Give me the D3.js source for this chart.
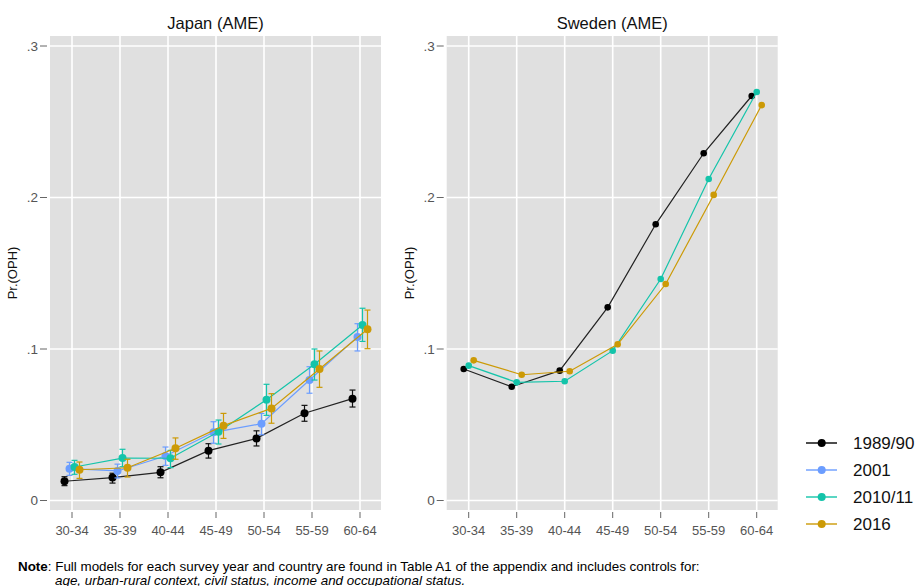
<!DOCTYPE html>
<html>
<head>
<meta charset="utf-8">
<script src="https://cdn.jsdelivr.net/npm/d3@7"></script>
<style>
  body { margin: 0; background: #fff; }
  svg { font-family: "Liberation Sans", Arial, sans-serif; display: block; }
</style>
</head>
<body>
<svg id="chart" width="919" height="586"></svg>
<script>
// age groups on the x axis
const ageGroups = ["30-34", "35-39", "40-44", "45-49", "50-54", "55-59", "60-64"];
const yTicks = [0, 0.1, 0.2, 0.3];
const yTickLabels = ["0", ".1", ".2", ".3"];

const years = ["1989/90", "2001", "2010/11", "2016"];
const colors = ["#000000", "#6b9dff", "#14c4aa", "#cc9a06"];

// Japan estimates with 95% CI
const jp1989 = [0.0127, 0.0151, 0.0186, 0.0329, 0.0410, 0.0576, 0.0672];
const jp1989Lo = [0.0098, 0.0115, 0.0150, 0.0280, 0.0360, 0.0523, 0.0617];
const jp1989Hi = [0.0157, 0.0180, 0.0223, 0.0375, 0.0460, 0.0628, 0.0729];

const jp2001 = [0.0210, 0.0195, 0.0294, 0.0450, 0.0507, 0.0795, 0.1080];
const jp2001Lo = [0.0166, 0.0149, 0.0232, 0.0378, 0.0434, 0.0708, 0.0987];
const jp2001Hi = [0.0252, 0.0240, 0.0353, 0.0520, 0.0575, 0.0883, 0.1167];

const jp2010 = [0.0221, 0.0280, 0.0279, 0.0454, 0.0665, 0.0899, 0.1158];
const jp2010Lo = [0.0173, 0.0223, 0.0217, 0.0373, 0.0562, 0.0795, 0.1050];
const jp2010Hi = [0.0265, 0.0338, 0.0331, 0.0531, 0.0767, 0.1000, 0.1269];

const jp2016 = [0.0203, 0.0216, 0.0345, 0.0494, 0.0608, 0.0868, 0.1130];
const jp2016Lo = [0.0146, 0.0155, 0.0272, 0.0410, 0.0510, 0.0747, 0.1002];
const jp2016Hi = [0.0254, 0.0272, 0.0413, 0.0575, 0.0705, 0.0987, 0.1257];

// Sweden estimates (no 2001 wave)
const se1989 = [0.0868, 0.0751, 0.0857, 0.1275, 0.1823, 0.2292, 0.2670];
const se2010 = [0.0890, 0.0780, 0.0787, 0.0989, 0.1462, 0.2122, 0.2696];
const se2016 = [0.0925, 0.0830, 0.0853, 0.1031, 0.1429, 0.2017, 0.2610];

const noteText = "Full models for each survey year and country are found in Table A1 of the appendix and includes controls for:";
const noteText2 = "age, urban-rural context, civil status, income and occupational status.";

const svg = d3.select("#chart");

const japanSeries = [
  {year: 0, est: jp1989, lo: jp1989Lo, hi: jp1989Hi},
  {year: 1, est: jp2001, lo: jp2001Lo, hi: jp2001Hi},
  {year: 2, est: jp2010, lo: jp2010Lo, hi: jp2010Hi},
  {year: 3, est: jp2016, lo: jp2016Lo, hi: jp2016Hi}
];
const swedenSeries = [
  {year: 0, est: se1989},
  {year: 2, est: se2010},
  {year: 3, est: se2016}
];

function drawPanel(left, right, title, series, r) {
  const top = 36, bottom = 510;
  const g = svg.append("g");

  const x = d3.scalePoint().domain(ageGroups).range([left + 22, right - 21]);
  const y = d3.scaleLinear().domain([0, 0.3]).range([500.5, 46]);

  g.append("rect")
    .attr("x", left).attr("y", top)
    .attr("width", right - left).attr("height", bottom - top)
    .attr("fill", "#e0e0e0");

  // grid
  g.selectAll(".hgrid").data(yTicks).enter().append("line")
    .attr("x1", left).attr("x2", right)
    .attr("y1", d => y(d)).attr("y2", d => y(d))
    .attr("stroke", "#fff").attr("stroke-width", 1.6);
  g.selectAll(".vgrid").data(ageGroups).enter().append("line")
    .attr("x1", d => x(d)).attr("x2", d => x(d))
    .attr("y1", top).attr("y2", bottom)
    .attr("stroke", "#fff").attr("stroke-width", 1.6);

  // y axis
  g.selectAll(".ytick").data(yTicks).enter().append("line")
    .attr("x1", left - 10).attr("x2", left - 3)
    .attr("y1", d => y(d)).attr("y2", d => y(d))
    .attr("stroke", "#666").attr("stroke-width", 1);
  g.selectAll(".ylab").data(yTicks).enter().append("text")
    .attr("x", left - 12).attr("y", d => y(d) + 4.5)
    .attr("text-anchor", "end")
    .style("font-size", "13.5px").attr("fill", "#555")
    .text((d, i) => yTickLabels[i]);

  // x axis
  g.selectAll(".xtick").data(ageGroups).enter().append("line")
    .attr("x1", d => x(d)).attr("x2", d => x(d))
    .attr("y1", bottom + 2).attr("y2", bottom + 8)
    .attr("stroke", "#666").attr("stroke-width", 1);
  g.selectAll(".xlab").data(ageGroups).enter().append("text")
    .attr("x", d => x(d)).attr("y", bottom + 24.5)
    .attr("text-anchor", "middle")
    .style("font-size", "13px").attr("fill", "#555")
    .text(d => d);

  g.append("text")
    .attr("x", (left + right) / 2).attr("y", 29)
    .attr("text-anchor", "middle")
    .style("font-size", "16.5px").attr("fill", "#111")
    .text(title);

  g.append("text")
    .attr("transform", "translate(" + (left - 33) + "," + ((top + bottom) / 2) + ") rotate(-90)")
    .attr("text-anchor", "middle")
    .style("font-size", "13px").attr("fill", "#111")
    .text("Pr.(OPH)");

  // dodge series around each age group
  const n = series.length;
  series.forEach((s, k) => {
    const off = (k - (n - 1) / 2) * 5;
    const col = colors[s.year];
    const pts = s.est.map((v, i) => ({cx: x(ageGroups[i]) + off, v: v, i: i}));

    const line = d3.line().x(d => d.cx).y(d => y(d.v));
    g.append("path")
      .datum(pts)
      .attr("d", line)
      .attr("fill", "none")
      .attr("stroke", s.year === 0 ? "#222" : col)
      .attr("stroke-width", 1.2);

    if (s.lo) {
      const eb = g.selectAll(null).data(pts).enter().append("g")
        .attr("stroke", s.year === 0 ? "#111" : col)
        .attr("stroke-width", 1.2);
      eb.append("line")
        .attr("x1", d => d.cx).attr("x2", d => d.cx)
        .attr("y1", d => y(s.lo[d.i])).attr("y2", d => y(s.hi[d.i]));
      eb.append("line")
        .attr("x1", d => d.cx - 3).attr("x2", d => d.cx + 3)
        .attr("y1", d => y(s.lo[d.i])).attr("y2", d => y(s.lo[d.i]));
      eb.append("line")
        .attr("x1", d => d.cx - 3).attr("x2", d => d.cx + 3)
        .attr("y1", d => y(s.hi[d.i])).attr("y2", d => y(s.hi[d.i]));
    }

    g.selectAll(null).data(pts).enter().append("circle")
      .attr("cx", d => d.cx).attr("cy", d => y(d.v))
      .attr("r", r)
      .attr("fill", col);
  });
}

drawPanel(50, 381, "Japan (AME)", japanSeries, 4);
drawPanel(446.7, 777.7, "Sweden (AME)", swedenSeries, 3.3);

// legend
const legend = svg.append("g");
years.forEach((yr, i) => {
  const ly = 443 + i * 27;
  legend.append("line")
    .attr("x1", 806).attr("x2", 837)
    .attr("y1", ly).attr("y2", ly)
    .attr("stroke", colors[i]).attr("stroke-width", 1.4);
  legend.append("circle")
    .attr("cx", 821.7).attr("cy", ly).attr("r", 4)
    .attr("fill", colors[i]);
  legend.append("text")
    .attr("x", 853).attr("y", ly + 6)
    .style("font-size", "17px").attr("fill", "#111")
    .text(yr);
});

// note
const note = svg.append("text")
  .attr("x", 18).attr("y", 571)
  .style("font-size", "13.4px").attr("fill", "#000");
note.append("tspan").style("font-weight", "bold").text("Note");
note.append("tspan").text(": " + noteText);
svg.append("text")
  .attr("x", 55).attr("y", 584.5)
  .style("font-size", "13.4px").style("font-style", "italic").attr("fill", "#000")
  .text(noteText2);
</script>
</body>
</html>
